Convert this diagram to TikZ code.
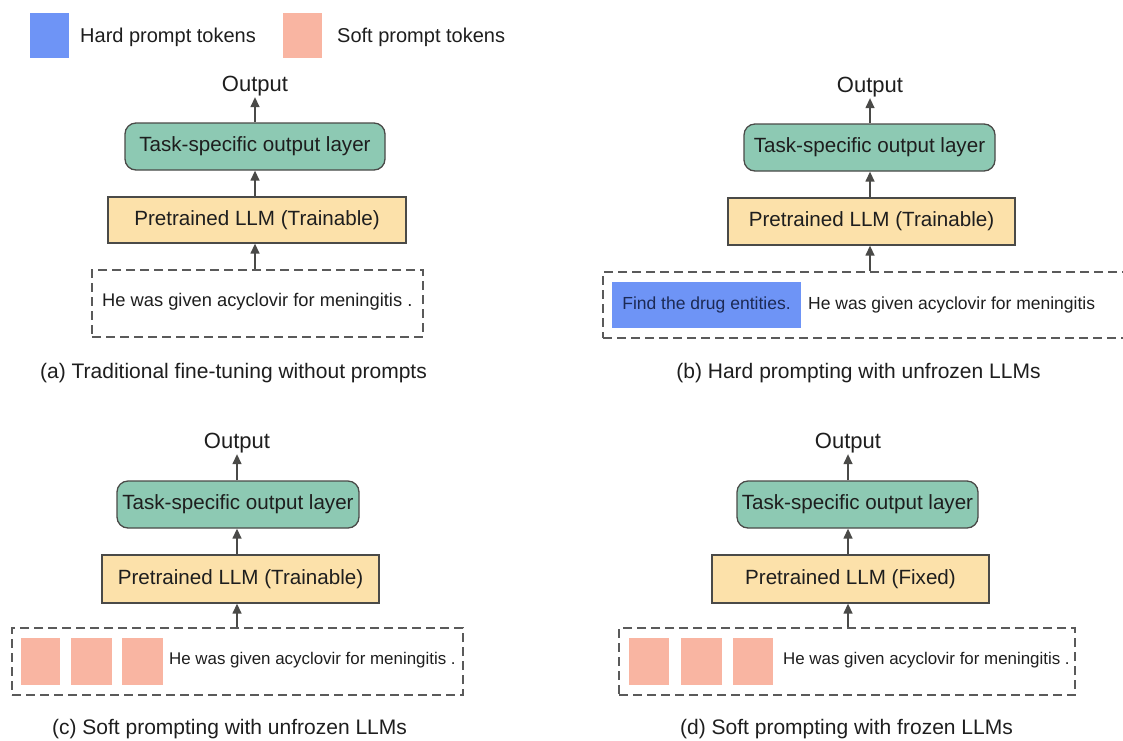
\documentclass[tikz,border=0pt]{standalone}
\usepackage{fontspec}
\setmainfont{Liberation Sans}
\usetikzlibrary{arrows.meta}
\definecolor{hardblue}{HTML}{6E94F6}
\definecolor{softpink}{HTML}{F9B5A2}
\definecolor{greenfill}{HTML}{8DC9B3}
\definecolor{orangefill}{HTML}{FCE1AA}
\definecolor{edgegray}{HTML}{4A4A48}
\definecolor{dashgray}{HTML}{5A5A5A}
\definecolor{navytext}{HTML}{1C2A55}
\definecolor{txt}{HTML}{1E1E1E}
\tikzset{
  greenbox/.style={draw=edgegray, line width=1.3pt, fill=greenfill, rounded corners=11pt, inner sep=0pt, font=\fontsize{20.6}{24}\selectfont, text=txt},
  orangebox/.style={draw=edgegray, line width=1.3pt, fill=orangefill, inner sep=0pt, font=\fontsize{20.6}{24}\selectfont, text=txt},
  inputbox/.style={draw=dashgray, line width=1.4pt, dash pattern=on 9pt off 5pt, inner sep=0pt},
  outlabel/.style={font=\fontsize{22}{26}\selectfont, text=txt, inner sep=0pt},
  caption/.style={font=\fontsize{21}{25}\selectfont, text=txt, inner sep=0pt},
  intext/.style={text=txt, inner sep=0pt, anchor=west},
  token/.style={fill=softpink, draw=none, inner sep=0pt},
  arr/.style={draw=edgegray, line width=1.4pt, -{Triangle[length=10pt,width=9pt]}},
  legtext/.style={font=\fontsize{20}{24}\selectfont, text=txt, inner sep=0pt, anchor=west}
}
\begin{document}
\begin{tikzpicture}[x=1pt,y=-1pt]
\useasboundingbox[fill=white] (0,0) rectangle (1123,740);

% Legend
\node[fill=hardblue, minimum width=39pt, minimum height=45pt, inner sep=0pt] (lgh) at (49.5,35.5) {};
\node[legtext] (lghT) at (80,37) {Hard prompt tokens};
\node[fill=softpink, minimum width=39pt, minimum height=45pt, inner sep=0pt] (lgs) at (302.5,35.5) {};
\node[legtext] (lgsT) at (337,37) {Soft prompt tokens};

% ---------- Panel (a) ----------
\node[outlabel] (outa) at (255,86) {Output};
\node[greenbox, minimum width=260pt, minimum height=47pt] (grna) at (255,146.5) {Task-specific output layer};
\node[orangebox, minimum width=298pt, minimum height=46pt] (oraa) at (257,220) {Pretrained LLM (Trainable)};
\node[inputbox, minimum width=331pt, minimum height=67pt] (ina) at (257.5,303.5) {};
\node[intext, font=\fontsize{18.3}{22}\selectfont] (txta) at (102,302) {He was given acyclovir for meningitis .};
\draw[arr] (grna.north -| outa) -- ([yshift=-1pt]outa.south);
\draw[arr] (oraa.north -| outa) -- (grna.south -| outa);
\draw[arr] (ina.north -| outa) -- (oraa.south -| outa);
\node[caption] (capa) at (233.5,373) {(a) Traditional fine-tuning without prompts};

% ---------- Panel (b) ----------
\node[outlabel] (outb) at (870,87) {Output};
\node[greenbox, minimum width=251pt, minimum height=47pt] (grnb) at (869.5,147.5) {Task-specific output layer};
\node[orangebox, minimum width=287pt, minimum height=47pt] (orab) at (871.5,221.5) {Pretrained LLM (Trainable)};
\node[inputbox, minimum width=560pt, minimum height=66pt] (inb) at (883,305) {};
\node[fill=hardblue, minimum width=189pt, minimum height=46pt, inner sep=0pt, font=\fontsize{17.5}{21}\selectfont, text=navytext] (hardb) at (706.5,305) {Find the drug entities.};
\node[intext, font=\fontsize{17.5}{21}\selectfont] (txtb) at (808,305) {He was given acyclovir for meningitis};
\draw[arr] (grnb.north -| outb) -- ([yshift=-1pt]outb.south);
\draw[arr] (orab.north -| outb) -- (grnb.south -| outb);
\draw[arr] (inb.north -| outb) -- (orab.south -| outb);
\node[caption] (capb) at (858.5,373) {(b) Hard prompting with unfrozen LLMs};

% ---------- Panel (c) ----------
\node[outlabel] (outc) at (237,443) {Output};
\node[greenbox, minimum width=242pt, minimum height=47pt] (grnc) at (238,504.5) {Task-specific output layer};
\node[orangebox, minimum width=277pt, minimum height=48pt] (orac) at (240.5,579) {Pretrained LLM (Trainable)};
\node[inputbox, minimum width=451pt, minimum height=67pt] (inc) at (237.5,661.5) {};
\node[token, minimum width=39pt, minimum height=47pt] (c1) at (40.5,661.5) {};
\node[token, minimum width=41pt, minimum height=47pt] (c2) at (91.5,661.5) {};
\node[token, minimum width=41pt, minimum height=47pt] (c3) at (142.5,661.5) {};
\node[intext, font=\fontsize{16.9}{20}\selectfont] (txtc) at (169,660) {He was given acyclovir for meningitis .};
\draw[arr] (grnc.north -| outc) -- ([yshift=-1pt]outc.south);
\draw[arr] (orac.north -| outc) -- (grnc.south -| outc);
\draw[arr] (inc.north -| outc) -- (orac.south -| outc);
\node[caption] (capc) at (229.5,729) {(c) Soft prompting with unfrozen LLMs};

% ---------- Panel (d) ----------
\node[outlabel] (outd) at (848,443) {Output};
\node[greenbox, minimum width=241pt, minimum height=47pt] (grnd) at (857.5,504.5) {Task-specific output layer};
\node[orangebox, minimum width=277pt, minimum height=48pt] (orad) at (850.5,579) {Pretrained LLM (Fixed)};
\node[inputbox, minimum width=456pt, minimum height=67pt] (ind) at (847,661.5) {};
\node[token, minimum width=40pt, minimum height=47pt] (d1) at (649,661.5) {};
\node[token, minimum width=41pt, minimum height=47pt] (d2) at (701.5,661.5) {};
\node[token, minimum width=40pt, minimum height=47pt] (d3) at (753,661.5) {};
\node[intext, font=\fontsize{16.9}{20}\selectfont] (txtd) at (783,660) {He was given acyclovir for meningitis .};
\draw[arr] (grnd.north -| outd) -- ([yshift=-1pt]outd.south);
\draw[arr] (orad.north -| outd) -- (grnd.south -| outd);
\draw[arr] (ind.north -| outd) -- (orad.south -| outd);
\node[caption] (capd) at (846.5,729) {(d) Soft prompting with frozen LLMs};
\end{tikzpicture}
\end{document}
